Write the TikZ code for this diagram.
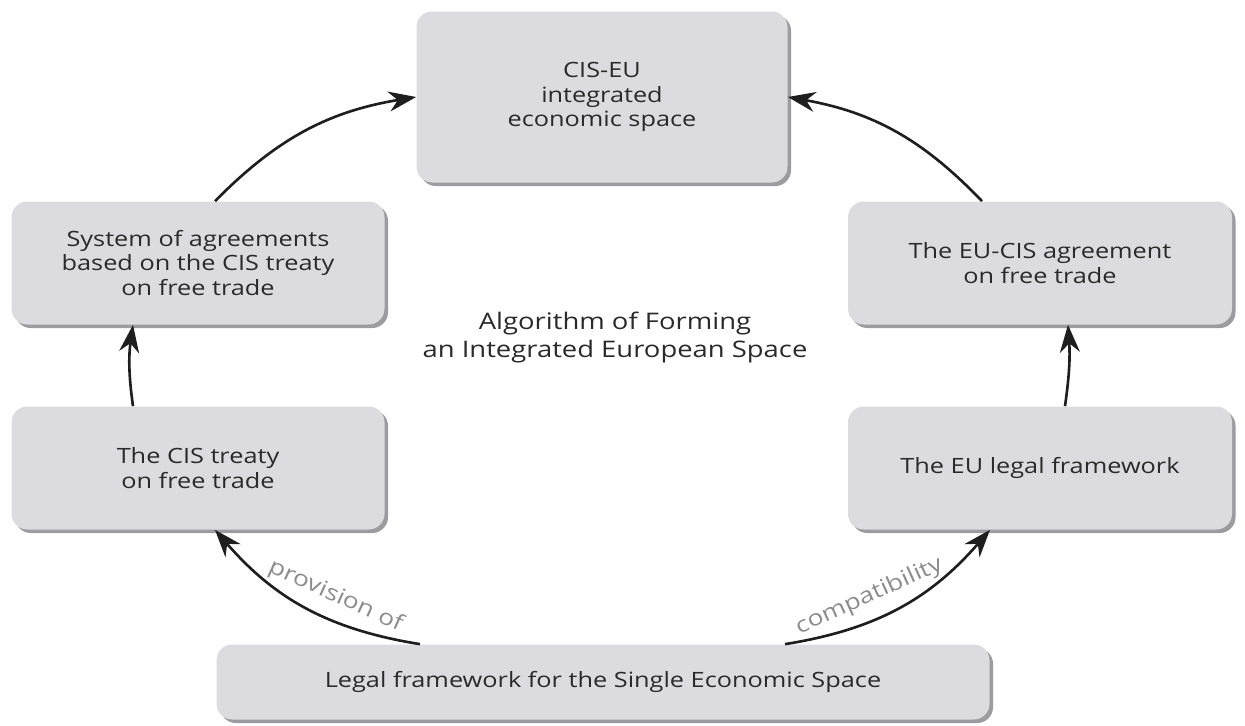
\documentclass[tikz,border=0pt]{standalone}
\usepackage{fontspec}
\setmainfont{Open Sans}[FakeStretch=1.2]
\usetikzlibrary{arrows.meta,positioning,shadows}
\definecolor{ciBox}{HTML}{DCDCE0}
\definecolor{ciShade}{HTML}{9C9CA0}
\definecolor{ciText}{HTML}{2A2A2A}
\definecolor{ciLine}{HTML}{1E1E1E}
\definecolor{ciLabel}{HTML}{8C8C8C}

\begin{document}
\begin{tikzpicture}[
  box/.style={fill=ciBox,rounded corners=9pt,minimum height=24.6mm,align=center,text=ciText,
    font=\fontsize{12}{14}\selectfont,
    drop shadow={shadow xshift=2pt,shadow yshift=-2pt,fill=ciShade,opacity=1}},
  flow/.style={-{Stealth[length=5.5mm,width=4mm]},line width=1.5pt,ciLine},
  lbl/.style={font=\fontsize{12.5}{14}\selectfont,text=ciLabel,sloped,above=3pt,pos=0.4},
  heading/.style={align=center,text=ciText,font=\fontsize{13}{16}\selectfont}
]
  \useasboundingbox (0,0) rectangle (24.9,-14.52);
  \node[box,minimum width=74.2mm,minimum height=34.2mm] (top) at (12.04,-1.94) {CIS-EU\\integrated\\economic space};
  \node[box,minimum width=74.6mm] (agree) at (3.96,-5.26) {System of agreements\\based on the CIS treaty\\on free trade};
  \node[box,minimum width=76.8mm] (eucis) at (20.8,-5.26) {The EU-CIS agreement\\on free trade};
  \node[box,minimum width=74.6mm] (treaty) at (3.96,-9.36) {The CIS treaty\\on free trade};
  \node[box,minimum width=76.8mm] (eulaw) at (20.8,-9.36) {The EU legal framework};
  \node[box,minimum width=154.6mm,minimum height=15mm] (ses) at (12.06,-13.64) {Legal framework for the Single Economic Space};
  \node[heading] (title) at (12.3,-6.75) {Algorithm of Forming\\an Integrated European Space};

  \draw[flow] ([xshift=3.4mm]agree.north) to[bend left=18] (top.west);
  \draw[flow] ([xshift=-11.6mm]eucis.north) to[bend right=18] (top.east);
  \draw[flow] ([xshift=-13mm]treaty.north) to[bend left=8] ([xshift=-13mm]agree.south);
  \draw[flow] ([xshift=5mm]eulaw.north) to[bend right=6] ([xshift=5.6mm]eucis.south);
  \draw[flow] ([xshift=-36.6mm]ses.north) to[bend left=20] node[lbl]{provision of} ([xshift=3.4mm]treaty.south);
  \draw[flow] ([xshift=36.4mm]ses.north) to[bend right=20] node[lbl]{compatibility} ([xshift=-10mm]eulaw.south);
\end{tikzpicture}
\end{document}
